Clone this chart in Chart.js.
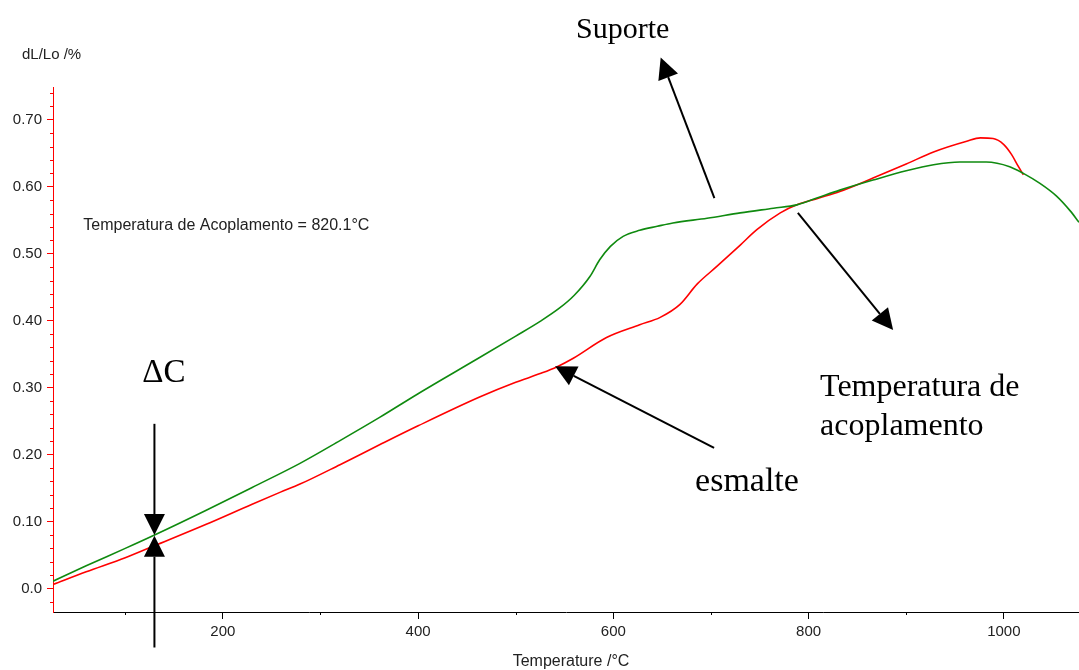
<!DOCTYPE html>
<html>
<head>
<meta charset="utf-8">
<script src="https://cdn.jsdelivr.net/npm/chart.js@4/dist/chart.umd.min.js"></script>
<style>
  html, body { margin: 0; padding: 0; background: #fff; overflow: hidden; }
  #wrap { width: 1079px; height: 670px; position: relative; }
  canvas { display: block; }
</style>
</head>
<body>
<div id="wrap"><canvas id="dilatometry" width="1079" height="670"></canvas></div>
<script>
// Dilatometric curves: relative expansion dL/Lo (%) vs temperature (°C)
const suporteTemp = [26, 60, 100, 130, 183, 230, 279, 320, 361, 400, 463, 500, 525, 545, 560, 576, 586, 597, 610, 627, 645, 661, 696, 730, 764, 788, 810, 832, 866, 900, 928, 955, 982, 1006, 1020, 1037, 1054, 1068, 1077];
const suporteDL   = [0.011, 0.034, 0.060, 0.080, 0.117, 0.151, 0.187, 0.221, 0.256, 0.291, 0.345, 0.377, 0.399, 0.419, 0.438, 0.466, 0.491, 0.511, 0.526, 0.535, 0.541, 0.546, 0.553, 0.561, 0.568, 0.573, 0.584, 0.595, 0.610, 0.624, 0.633, 0.637, 0.637, 0.630, 0.620, 0.605, 0.586, 0.564, 0.547];

const esmalteTemp = [26, 60, 100, 130, 183, 230, 259, 279, 320, 361, 400, 463, 500, 525, 542, 559, 593, 627, 648, 668, 686, 706, 730, 747, 771, 788, 810, 832, 866, 900, 928, 962, 976, 989, 1000, 1008, 1015, 1020];
const esmalteDL   = [0.006, 0.025, 0.046, 0.064, 0.096, 0.126, 0.144, 0.156, 0.185, 0.215, 0.243, 0.286, 0.308, 0.321, 0.331, 0.344, 0.375, 0.394, 0.405, 0.424, 0.455, 0.481, 0.513, 0.536, 0.561, 0.573, 0.583, 0.593, 0.613, 0.634, 0.652, 0.668, 0.673, 0.672, 0.663, 0.648, 0.630, 0.618];

const couplingTemp = 820.1;

// Axis ticks
const xTicks = [200, 400, 600, 800, 1000];
const xTickLabels = ['200', '400', '600', '800', '1000'];
const xMinorTicks = [100, 300, 500, 700, 900];
const yTicks = [0, 0.1, 0.2, 0.3, 0.4, 0.5, 0.6, 0.7];
const yTickLabels = ['0.0', '0.10', '0.20', '0.30', '0.40', '0.50', '0.60', '0.70'];
const yMinorTicks = [-0.02, 0.02, 0.04, 0.06, 0.08, 0.12, 0.14, 0.16, 0.18, 0.22, 0.24, 0.26, 0.28,
                     0.32, 0.34, 0.36, 0.38, 0.42, 0.44, 0.46, 0.48, 0.52, 0.54, 0.56, 0.58,
                     0.62, 0.64, 0.66, 0.68, 0.72, 0.74];

const sansFont = 'Liberation Sans, Arial, sans-serif';
const serifFont = 'Liberation Serif, Times New Roman, serif';

// Callouts, anchored in data coordinates
const callouts = {
  arrows: [
    { from: [703.5, 0.583], to: [648.5, 0.793] },   // Suporte
    { from: [789.0, 0.561], to: [886.6, 0.386] },   // Temperatura de acoplamento
    { from: [703.2, 0.210], to: [540.3, 0.332] },   // esmalte
    { from: [129.9, 0.246], to: [129.9, 0.080] },   // ΔC, from above
    { from: [129.9, -0.088], to: [129.9, 0.079] }   // ΔC, from below
  ],
  texts: [
    { text: 'Suporte', at: [561.8, 0.822], size: 30 },
    { text: '\u0394C', at: [117.4, 0.309], size: 33 },
    { text: 'Temperatura de', at: [811.8, 0.288], size: 32 },
    { text: 'acoplamento', at: [811.8, 0.229], size: 32 },
    { text: 'esmalte', at: [683.7, 0.146], size: 34 }
  ]
};

const pairs = (xs, ys) => xs.map((x, i) => ({ x, y: ys[i] }));

function drawArrow(ctx, x0, y0, x1, y1) {
  const ang = Math.atan2(y1 - y0, x1 - x0);
  const len = 21, half = 10.5;
  const bx = x1 - len * Math.cos(ang), by = y1 - len * Math.sin(ang);
  ctx.beginPath();
  ctx.moveTo(x0, y0);
  ctx.lineTo(bx, by);
  ctx.stroke();
  ctx.beginPath();
  ctx.moveTo(x1, y1);
  ctx.lineTo(bx + half * Math.sin(ang), by - half * Math.cos(ang));
  ctx.lineTo(bx - half * Math.sin(ang), by + half * Math.cos(ang));
  ctx.closePath();
  ctx.fill();
}

const extras = {
  id: 'extras',
  afterDraw(chart) {
    const { ctx, chartArea, scales: { x, y } } = chart;
    ctx.save();

    // minor ticks on both axes
    ctx.lineWidth = 1;
    ctx.strokeStyle = '#ff0000';
    yMinorTicks.forEach(v => {
      const py = Math.round(y.getPixelForValue(v)) + 0.5;
      ctx.beginPath(); ctx.moveTo(chartArea.left - 3, py); ctx.lineTo(chartArea.left, py); ctx.stroke();
    });
    ctx.strokeStyle = '#000';
    xMinorTicks.forEach(v => {
      const px = Math.round(x.getPixelForValue(v)) + 0.5;
      ctx.beginPath(); ctx.moveTo(px, chartArea.bottom); ctx.lineTo(px, chartArea.bottom + 3); ctx.stroke();
    });

    // axis unit above the y axis
    ctx.fillStyle = '#222';
    ctx.font = '15px ' + sansFont;
    ctx.textAlign = 'left';
    ctx.textBaseline = 'middle';
    ctx.fillText('dL/Lo /%', chartArea.left - 31, chartArea.top - 32);

    // x axis title, centred slightly right of the plot centre
    ctx.font = '16px ' + sansFont;
    ctx.textAlign = 'center';
    ctx.fillText('Temperature /\u00B0C', (chartArea.left + chartArea.right) / 2 + 5, chartArea.bottom + 50);

    // coupling temperature readout
    ctx.textAlign = 'left';
    ctx.fillText('Temperatura de Acoplamento = ' + couplingTemp.toFixed(1) + '\u00B0C',
                 x.getPixelForValue(57), y.getPixelForValue(0.542));

    // arrows
    ctx.strokeStyle = '#000';
    ctx.fillStyle = '#000';
    ctx.lineWidth = 2;
    callouts.arrows.forEach(a => {
      drawArrow(ctx, x.getPixelForValue(a.from[0]), y.getPixelForValue(a.from[1]),
                     x.getPixelForValue(a.to[0]), y.getPixelForValue(a.to[1]));
    });

    // serif callout labels
    ctx.textBaseline = 'alphabetic';
    callouts.texts.forEach(t => {
      ctx.font = t.size + 'px ' + serifFont;
      ctx.fillText(t.text, x.getPixelForValue(t.at[0]), y.getPixelForValue(t.at[1]));
    });
    ctx.restore();
  }
};

new Chart(document.getElementById('dilatometry'), {
  type: 'line',
  data: {
    datasets: [
      {
        label: 'Suporte',
        data: pairs(suporteTemp, suporteDL),
        borderColor: '#0f8a0f',
        borderWidth: 1.6,
        pointRadius: 0,
        cubicInterpolationMode: 'monotone',
        fill: false
      },
      {
        label: 'esmalte',
        data: pairs(esmalteTemp, esmalteDL),
        borderColor: '#ff0000',
        borderWidth: 1.6,
        pointRadius: 0,
        cubicInterpolationMode: 'monotone',
        fill: false
      }
    ]
  },
  options: {
    responsive: false,
    animation: false,
    layout: { padding: { top: 87, right: 0, bottom: 0, left: 0 } },
    plugins: { legend: { display: false }, tooltip: { enabled: false }, title: { display: false } },
    scales: {
      x: {
        type: 'linear',
        min: 26,
        max: 1077,
        afterBuildTicks: s => { s.ticks = xTicks.map(v => ({ value: v })); },
        afterFit: s => { s.height = 58; },
        border: { color: '#000', width: 1 },
        grid: { drawOnChartArea: false, drawTicks: true, tickLength: 7, color: '#000', tickColor: '#000' },
        ticks: {
          font: { family: sansFont, size: 15 },
          color: '#222',
          padding: 4,
          maxRotation: 0,
          autoSkip: false,
          callback: (v, i) => xTickLabels[i]
        },
        title: { display: false }
      },
      y: {
        type: 'linear',
        min: -0.035,
        max: 0.749,
        afterBuildTicks: s => { s.ticks = yTicks.map(v => ({ value: v })); },
        afterFit: s => { s.width = 53; },
        border: { color: '#ff0000', width: 1 },
        grid: { drawOnChartArea: false, drawTicks: true, tickLength: 6, color: '#ff0000', tickColor: '#ff0000' },
        ticks: {
          font: { family: sansFont, size: 15 },
          color: '#222',
          padding: 5,
          autoSkip: false,
          callback: (v, i) => yTickLabels[i]
        }
      }
    }
  },
  plugins: [extras]
});
</script>
</body>
</html>
